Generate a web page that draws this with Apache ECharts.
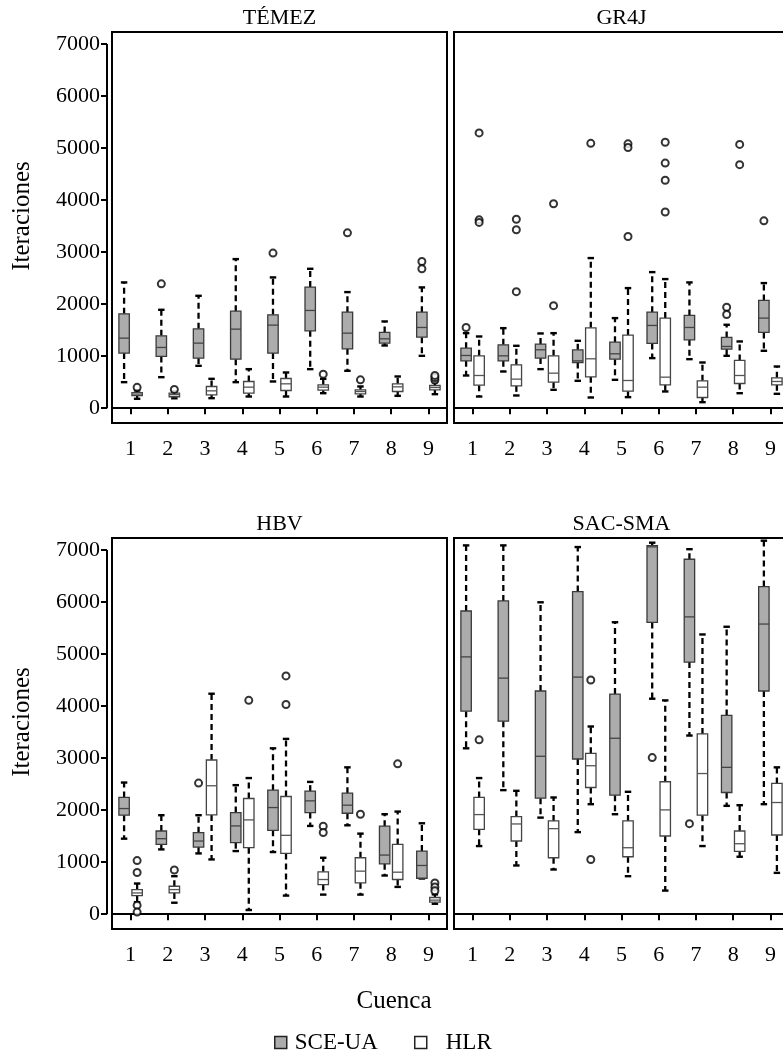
<!DOCTYPE html>
<html><head><meta charset="utf-8">
<script src="https://cdn.jsdelivr.net/npm/echarts@6/dist/echarts.min.js"></script>
<style>html,body{margin:0;padding:0;background:#fff}#c{width:783px;height:1053px}</style>
</head><body><div id="c"></div>
<script>
// ---------- data ----------
const categories = ['1','2','3','4','5','6','7','8','9'];
const yTicks = [0,1000,2000,3000,4000,5000,6000,7000];
const methods = ['SCE-UA','HLR'];
const panelTitles = ['TÉMEZ','GR4J','HBV','SAC-SMA'];

// each row: [low whisker, Q1, median, Q3, high whisker]
const temezSCE = [[500,1058,1346,1814,2417],[596,994,1167,1391,1891],[814,962,1250,1526,2160],[500,942,1519,1865,2865],[513,1058,1596,1795,2513],[750,1487,1878,2327,2679],[718,1141,1442,1846,2231],[1205,1250,1333,1455,1667],[1006,1365,1551,1846,2321]];
const temezHLR = [[180,240,270,300,340],[190,220,260,290,320],[192,256,333,417,564],[224,288,404,513,750],[224,340,468,570,686],[288,346,404,449,564],[224,276,320,353,417],[237,320,410,468,609],[269,353,397,436,500]];
// outliers: [category index, value]
const temezSCEOut = [[1,2390],[4,2980],[6,3370],[8,2820],[8,2680]];
const temezHLROut = [[0,400],[1,360],[5,654],[6,545],[8,540],[8,590],[8,630]];

const gr4jSCE = [[628,910,1013,1154,1442],[705,910,1006,1218,1538],[750,962,1122,1231,1436],[526,878,910,1122,1295],[545,942,1045,1269,1731],[962,1244,1590,1846,2615],[942,1314,1551,1782,2417],[1006,1135,1186,1359,1603],[1103,1455,1731,2071,2404]];
const gr4jHLR = [[224,442,628,1006,1378],[244,429,558,833,1199],[353,500,673,1006,1442],[205,603,949,1545,2885],[212,327,532,1404,2308],[321,449,596,1731,2481],[115,205,404,526,878],[288,474,628,917,1282],[276,449,513,583,801]];
const gr4jSCEOut = [[0,1550],[7,1940],[7,1800],[8,3600]];
const gr4jHLROut = [[0,5290],[0,3620],[0,3570],[1,3630],[1,3430],[1,2240],[2,3930],[2,1970],[3,5090],[4,5080],[4,5010],[4,3300],[5,5110],[5,4710],[5,4380],[5,3770],[7,5070],[7,4680]];

const hbvSCE = [[1451,1902,2030,2243,2530],[1245,1341,1451,1599,1902],[1168,1290,1406,1567,1902],[1213,1374,1696,1953,2480],[1194,1612,2049,2384,3188],[1696,1953,2178,2365,2542],[1708,1940,2095,2326,2822],[743,968,1136,1692,1921],[685,690,936,1213,1747]];
const hbvHLR = [[230,357,408,473,589],[220,408,473,537,730],[1052,1908,2468,2963,4237],[80,1278,1812,2223,2616],[357,1168,1515,2262,3369],[376,569,666,814,1084],[376,602,827,1084,1548],[524,666,807,1341,1972],[200,230,270,320,380]];
const hbvSCEOut = [[2,2520]];
const hbvHLROut = [[0,1030],[0,800],[0,170],[0,40],[1,850],[3,4110],[4,4580],[4,4030],[5,1690],[5,1570],[6,1920],[7,2890],[8,600],[8,520],[8,450]];

const sacSCE = [[3188,3902,4945,5827,7088],[2384,3709,4537,6020,7088],[1856,2230,3034,4289,5994],[1577,2982,4556,6200,7056],[1921,2287,3381,4230,5611],[4141,5608,7060,7085,7140],[3433,4846,5714,6822,7015],[2082,2339,2822,3819,5524],[2114,4289,5576,6297,7178]];
const sacHLR = [[1309,1631,1914,2243,2616],[936,1406,1734,1876,2371],[859,1084,1644,1792,2243],[2114,2435,2853,3092,3607],[730,1104,1277,1792,2352],[453,1502,2004,2545,4109],[1309,1902,2703,3465,5376],[1104,1206,1354,1599,2094],[794,1522,2146,2513,2822]];
const sacSCEOut = [[5,3010],[6,1740]];
const sacHLROut = [[0,3350],[3,4500],[3,1050]];

// ---------- layout / style ----------
const FONT = 'Liberation Serif';
const GREY = '#acacac';
const panels = [
  {title: panelTitles[0], sce: temezSCE, hlr: temezHLR, sceOut: temezSCEOut, hlrOut: temezHLROut, left: 112, top: 32, yAxisShow: true},
  {title: panelTitles[1], sce: gr4jSCE, hlr: gr4jHLR, sceOut: gr4jSCEOut, hlrOut: gr4jHLROut, left: 454, top: 32, yAxisShow: false},
  {title: panelTitles[2], sce: hbvSCE, hlr: hbvHLR, sceOut: hbvSCEOut, hlrOut: hbvHLROut, left: 112, top: 538, yAxisShow: true},
  {title: panelTitles[3], sce: sacSCE, hlr: sacHLR, sceOut: sacSCEOut, hlrOut: sacHLROut, left: 454, top: 538, yAxisShow: false}
];
const GW = 335, GH = 391;

function boxRender(side, fill, stroke, medColor) {
  return function (params, api) {
    const cat = api.value(0);
    const bw = api.size([1, 0])[0];
    const cx = api.coord([cat, 0])[0] + side * bw * 0.175;
    const w = bw * 0.28;
    const y = i => api.coord([cat, api.value(i)])[1];
    const yLow = y(1), yQ1 = y(2), yMed = y(3), yQ3 = y(4), yHigh = y(5);
    const capW = w * 0.62;
    const dash = {stroke: '#000', lineWidth: 2.3, lineDash: [6, 4]};
    const solid = {stroke: '#000', lineWidth: 2.4};
    return {
      type: 'group',
      children: [
        {type: 'line', shape: {x1: cx, y1: yQ3, x2: cx, y2: yHigh}, style: dash},
        {type: 'line', shape: {x1: cx, y1: yQ1, x2: cx, y2: yLow}, style: dash},
        {type: 'line', shape: {x1: cx - capW / 2, y1: yHigh, x2: cx + capW / 2, y2: yHigh}, style: solid},
        {type: 'line', shape: {x1: cx - capW / 2, y1: yLow, x2: cx + capW / 2, y2: yLow}, style: solid},
        {type: 'rect', shape: {x: cx - w / 2, y: yQ3, width: w, height: yQ1 - yQ3},
          style: {fill: fill, stroke: stroke, lineWidth: 1.3}},
        {type: 'line', shape: {x1: cx - w / 2, y1: yMed, x2: cx + w / 2, y2: yMed},
          style: {stroke: medColor, lineWidth: 1.3}}
      ]
    };
  };
}

const grids = [], xAxes = [], yAxes = [], series = [], graphics = [];
panels.forEach((p, k) => {
  grids.push({left: p.left, top: p.top, width: GW, height: GH, show: true, outerBoundsMode: 'none',
    borderColor: '#000', borderWidth: 2, backgroundColor: 'transparent', containLabel: false});
  xAxes.push({type: 'category', gridIndex: k, data: categories, boundaryGap: true,
    axisLine: {show: true, lineStyle: {color: '#000', width: 2}},
    axisTick: {show: true, alignWithLabel: true, length: 6, lineStyle: {color: '#000', width: 2}},
    axisLabel: {show: true, color: '#000', fontFamily: FONT, fontSize: 22, margin: 15},
    splitLine: {show: false}});
  yAxes.push({type: 'value', gridIndex: k, min: -285, max: 7230, offset: 5,
    axisLine: {show: false},
    axisTick: {show: p.yAxisShow, customValues: yTicks, length: 6, lineStyle: {color: '#000', width: 2}},
    axisLabel: {show: p.yAxisShow, customValues: yTicks, color: '#000', fontFamily: FONT, fontSize: 22, margin: 7,
      formatter: v => String(v)},
    splitLine: {show: false}});
  const mk = arr => arr.map((r, i) => [i].concat(r));
  series.push({name: methods[0], type: 'custom', xAxisIndex: k, yAxisIndex: k,
    itemStyle: {color: GREY, borderColor: '#333'},
    renderItem: boxRender(-1, GREY, '#3a3a3a', '#444'),
    encode: {x: 0, y: [1, 2, 3, 4, 5]}, data: mk(p.sce), z: 3});
  series.push({name: methods[1], type: 'custom', xAxisIndex: k, yAxisIndex: k,
    itemStyle: {color: '#fff', borderColor: '#333'},
    renderItem: boxRender(1, '#fff', '#444', '#555'),
    encode: {x: 0, y: [1, 2, 3, 4, 5]}, data: mk(p.hlr), z: 3});
  [[p.sceOut, -1], [p.hlrOut, 1]].forEach(([out, side]) => {
    series.push({type: 'scatter', xAxisIndex: k, yAxisIndex: k, data: out,
      symbol: 'circle', symbolSize: 7, symbolOffset: [side * 6.5, 0],
      itemStyle: {color: '#fff', borderColor: '#000', borderWidth: 2}, z: 4, silent: true});
  });
  if (p.yAxisShow) {
    series.push({type: 'custom', xAxisIndex: k, yAxisIndex: k, data: [[0, yTicks[0], yTicks[yTicks.length - 1]]],
      encode: {x: 0, y: [1, 2]}, silent: true,
      renderItem: function (params, api) {
        const x = params.coordSys.x - 5;
        return {type: 'line', shape: {x1: x, y1: api.coord([0, api.value(1)])[1], x2: x, y2: api.coord([0, api.value(2)])[1]},
          style: {stroke: '#000', lineWidth: 2}};
      }});
    graphics.push({type: 'text', x: 22, y: p.top + 184, rotation: Math.PI / 2,
      style: {text: 'Iteraciones', font: '25px Liberation Serif', fill: '#000', align: 'center', verticalAlign: 'middle'}});
  }
  graphics.push({type: 'text', x: p.left + GW / 2, y: p.top - 14,
    style: {text: p.title, font: 'normal 22px Liberation Serif', fill: '#000', align: 'center', verticalAlign: 'middle'}});
});
graphics.push({type: 'text', x: 394, y: 1001,
  style: {text: 'Cuenca', font: '25px Liberation Serif', fill: '#000', align: 'center', verticalAlign: 'middle'}});

const legendBase = {show: true, top: 1031, orient: 'horizontal', padding: 0,
  itemWidth: 12, itemHeight: 12, icon: 'rect', selectedMode: false};
const legendText = pad => ({fontFamily: FONT, fontWeight: 'normal', fontSize: 23, color: '#000', padding: [0, 0, 0, pad]});

const chart = echarts.init(document.getElementById('c'), null, {renderer: 'canvas'});
chart.setOption({
  animation: false,
  backgroundColor: '#fff',
  textStyle: {fontFamily: FONT},
  grid: grids, xAxis: xAxes, yAxis: yAxes, series: series,
  graphic: {elements: graphics},
  legend: [
    Object.assign({}, legendBase, {left: 274, textStyle: legendText(3),
      data: [{name: methods[0], itemStyle: {color: GREY, borderColor: '#222', borderWidth: 1.5}}]}),
    Object.assign({}, legendBase, {left: 414, textStyle: legendText(14),
      data: [{name: methods[1], itemStyle: {color: '#fff', borderColor: '#222', borderWidth: 1.5}}]})
  ]
});
</script></body></html>
